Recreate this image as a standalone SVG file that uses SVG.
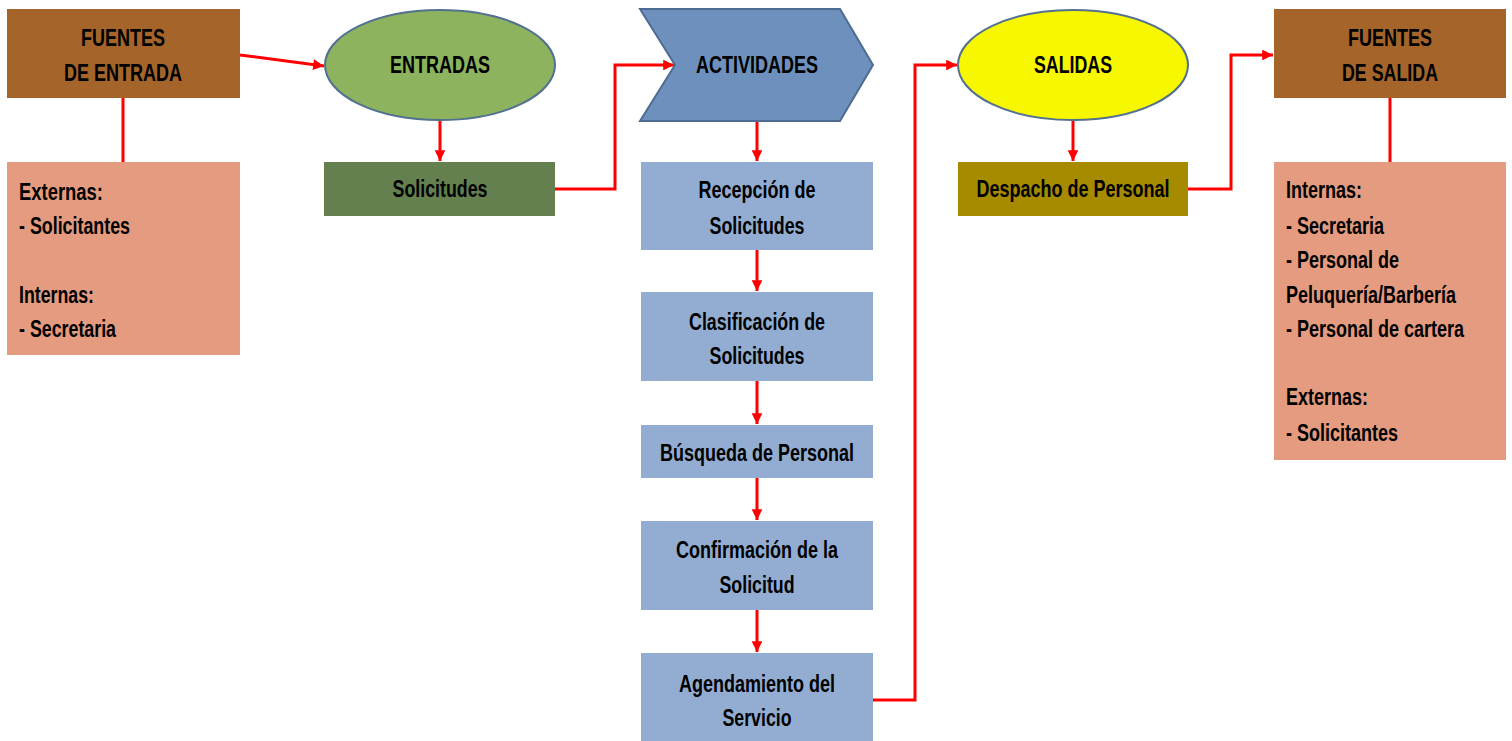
<svg xmlns="http://www.w3.org/2000/svg" width="1512" height="741" viewBox="0 0 1512 741">
<defs>
<marker id="ah" viewBox="0 0 10 10" refX="10" refY="5" markerWidth="4" markerHeight="3.6" markerUnits="strokeWidth" orient="auto">
<path d="M0,0 L10,5 L0,10 z" fill="#FF0000"/>
</marker>
<style>
text{font-family:"Liberation Sans",Arial,sans-serif;font-weight:bold;font-size:23px;fill:#000}
.c{text-anchor:middle}
.brown{fill:#A5642A}
.salmon{fill:#E49B7F}
.blue{fill:#93ADD2}
.con{fill:none;stroke:#FF0000;stroke-width:3}
.arr{fill:none;stroke:#FF0000;stroke-width:3;marker-end:url(#ah)}
</style>
</defs>
<rect width="1512" height="741" fill="#fff"/>
<g id="connectors">
<line class="arr" x1="240" y1="55" x2="324" y2="66"/>
<line class="con" x1="123" y1="98" x2="123" y2="162"/>
<line class="arr" x1="440" y1="120" x2="440" y2="161"/>
<polyline class="arr" points="555,189 615,189 615,65 674,65"/>
<line class="arr" x1="757" y1="121" x2="757" y2="161"/>
<line class="arr" x1="757" y1="250" x2="757" y2="291"/>
<line class="arr" x1="757" y1="381" x2="757" y2="424"/>
<line class="arr" x1="757" y1="478" x2="757" y2="520"/>
<line class="arr" x1="757" y1="610" x2="757" y2="652"/>
<polyline class="arr" points="873,700 915,700 915,65 957,65"/>
<line class="arr" x1="1073" y1="120" x2="1073" y2="161"/>
<polyline class="arr" points="1188,189 1231,189 1231,55 1273,55"/>
<line class="con" x1="1390" y1="98" x2="1390" y2="162"/>
</g>
<g id="fuentes-entrada">
<rect class="brown" x="7" y="9" width="233" height="89"/>
<text class="c" x="123" y="46" textLength="84" lengthAdjust="spacingAndGlyphs">FUENTES</text>
<text class="c" x="123" y="81" textLength="118" lengthAdjust="spacingAndGlyphs">DE ENTRADA</text>
</g>
<g id="fuentes-entrada-lista">
<rect class="salmon" x="7" y="162" width="233" height="193"/>
<text x="19" y="200" textLength="84" lengthAdjust="spacingAndGlyphs">Externas:</text>
<text x="19" y="234" textLength="111" lengthAdjust="spacingAndGlyphs">- Solicitantes</text>
<text x="19" y="303" textLength="75" lengthAdjust="spacingAndGlyphs">Internas:</text>
<text x="19" y="337" textLength="97" lengthAdjust="spacingAndGlyphs">- Secretaria</text>
</g>
<g id="entradas">
<ellipse cx="440" cy="65" rx="115" ry="55" fill="#8DB35F" stroke="#52708F" stroke-width="2"/>
<text class="c" x="440" y="73" textLength="100" lengthAdjust="spacingAndGlyphs">ENTRADAS</text>
</g>
<g id="solicitudes">
<rect x="324" y="162" width="231" height="54" fill="#65804F"/>
<text class="c" x="440" y="197" textLength="95" lengthAdjust="spacingAndGlyphs">Solicitudes</text>
</g>
<g id="actividades">
<polygon points="640,9 840,9 873,65 840,121 640,121 675,65" fill="#6E90BC" stroke="#4E6C92" stroke-width="2"/>
<text class="c" x="757" y="73" textLength="122" lengthAdjust="spacingAndGlyphs">ACTIVIDADES</text>
</g>
<g id="recepcion">
<rect class="blue" x="641" y="162" width="232" height="88"/>
<text class="c" x="757" y="198" textLength="117" lengthAdjust="spacingAndGlyphs">Recepción de</text>
<text class="c" x="757" y="234" textLength="95" lengthAdjust="spacingAndGlyphs">Solicitudes</text>
</g>
<g id="clasificacion">
<rect class="blue" x="641" y="292" width="232" height="89"/>
<text class="c" x="757" y="330" textLength="136" lengthAdjust="spacingAndGlyphs">Clasificación de</text>
<text class="c" x="757" y="364" textLength="95" lengthAdjust="spacingAndGlyphs">Solicitudes</text>
</g>
<g id="busqueda">
<rect class="blue" x="641" y="425" width="232" height="53"/>
<text class="c" x="757" y="461" textLength="194" lengthAdjust="spacingAndGlyphs">Búsqueda de Personal</text>
</g>
<g id="confirmacion">
<rect class="blue" x="641" y="521" width="232" height="89"/>
<text class="c" x="757" y="558" textLength="162" lengthAdjust="spacingAndGlyphs">Confirmación de la</text>
<text class="c" x="757" y="593" textLength="75" lengthAdjust="spacingAndGlyphs">Solicitud</text>
</g>
<g id="agendamiento">
<rect class="blue" x="641" y="653" width="232" height="88"/>
<text class="c" x="757" y="692" textLength="156" lengthAdjust="spacingAndGlyphs">Agendamiento del</text>
<text class="c" x="757" y="726" textLength="69" lengthAdjust="spacingAndGlyphs">Servicio</text>
</g>
<g id="salidas">
<ellipse cx="1073" cy="65" rx="115" ry="55" fill="#F7F700" stroke="#52708F" stroke-width="2"/>
<text class="c" x="1073" y="73" textLength="78" lengthAdjust="spacingAndGlyphs">SALIDAS</text>
</g>
<g id="despacho">
<rect x="958" y="162" width="230" height="54" fill="#A68A00"/>
<text class="c" x="1073" y="197" textLength="193" lengthAdjust="spacingAndGlyphs">Despacho de Personal</text>
</g>
<g id="fuentes-salida">
<rect class="brown" x="1274" y="9" width="232" height="89"/>
<text class="c" x="1390" y="46" textLength="84" lengthAdjust="spacingAndGlyphs">FUENTES</text>
<text class="c" x="1390" y="81" textLength="96" lengthAdjust="spacingAndGlyphs">DE SALIDA</text>
</g>
<g id="fuentes-salida-lista">
<rect class="salmon" x="1274" y="162" width="232" height="298"/>
<text x="1286" y="198" textLength="76" lengthAdjust="spacingAndGlyphs">Internas:</text>
<text x="1286" y="234" textLength="98" lengthAdjust="spacingAndGlyphs">- Secretaria</text>
<text x="1286" y="268" textLength="113" lengthAdjust="spacingAndGlyphs">- Personal de</text>
<text x="1286" y="303" textLength="170" lengthAdjust="spacingAndGlyphs">Peluquería/Barbería</text>
<text x="1286" y="337" textLength="178" lengthAdjust="spacingAndGlyphs">- Personal de cartera</text>
<text x="1286" y="405" textLength="82" lengthAdjust="spacingAndGlyphs">Externas:</text>
<text x="1286" y="441" textLength="112" lengthAdjust="spacingAndGlyphs">- Solicitantes</text>
</g>
</svg>
